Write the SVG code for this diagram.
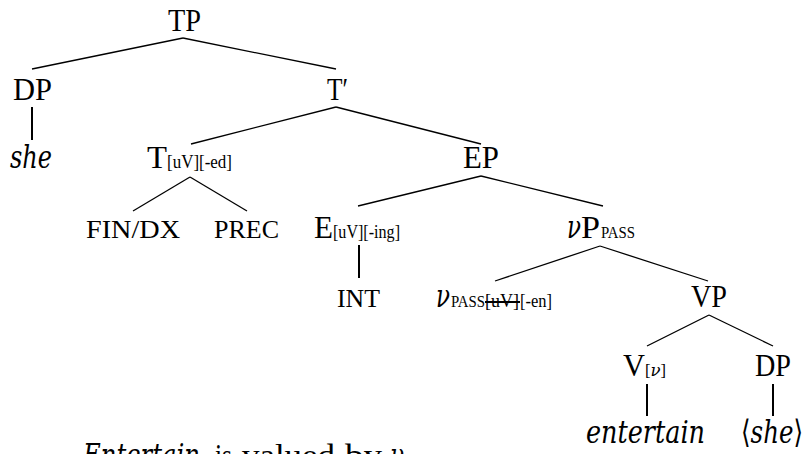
<svg xmlns="http://www.w3.org/2000/svg" width="807" height="454" viewBox="0 0 807 454">
<style>
text{font-family:"Liberation Serif","DejaVu Serif",serif;fill:#000}
.b{font-size:32px}
.m{font-size:26px}
.s{font-size:18px}
.xs{font-size:16px}
.i{font-style:italic;font-family:"DejaVu Serif","Liberation Serif",serif}
.ln{stroke:#000;stroke-width:1.3;fill:none}
.vt{stroke:#000;stroke-width:2;fill:none}
</style>
<rect width="807" height="454" fill="#fff"/>
<g id="connectors">
<line class="ln" x1="183" y1="38" x2="32" y2="69"/>
<line class="ln" x1="183" y1="38" x2="336" y2="69"/>
<line class="vt" x1="32" y1="107" x2="32" y2="140"/>
<line class="ln" x1="336" y1="107" x2="191" y2="144"/>
<line class="ln" x1="336" y1="107" x2="481" y2="144"/>
<line class="ln" x1="190" y1="177" x2="133" y2="211"/>
<line class="ln" x1="190" y1="177" x2="247" y2="211"/>
<line class="ln" x1="481" y1="176" x2="358" y2="206"/>
<line class="ln" x1="481" y1="176" x2="603" y2="206"/>
<line class="vt" x1="359" y1="245" x2="359" y2="278"/>
<line class="ln" x1="600" y1="246" x2="495" y2="281"/>
<line class="ln" x1="600" y1="246" x2="708" y2="281"/>
<line class="ln" x1="709" y1="315" x2="647" y2="346"/>
<line class="ln" x1="709" y1="315" x2="773" y2="346"/>
<line class="vt" x1="647" y1="384" x2="647" y2="416"/>
<line class="vt" x1="773" y1="384" x2="773" y2="416"/>
</g>
<g id="TP"><text class="b" x="168" y="31" textLength="33" lengthAdjust="spacingAndGlyphs">TP</text></g>
<g id="DP1"><text class="b" x="13" y="100" textLength="39" lengthAdjust="spacingAndGlyphs">DP</text></g>
<g id="she1"><text class="b i" x="10" y="168" textLength="42" lengthAdjust="spacingAndGlyphs">she</text></g>
<g id="Tbar"><text class="b" x="327" y="100" textLength="21" lengthAdjust="spacingAndGlyphs">T′</text></g>
<g id="T"><text class="b" x="147" y="168" textLength="20" lengthAdjust="spacingAndGlyphs">T</text><text class="s" x="167" y="168" textLength="65" lengthAdjust="spacingAndGlyphs">[uV][-ed]</text></g>
<g id="FINDX"><text class="m" x="86" y="238" textLength="94" lengthAdjust="spacingAndGlyphs">FIN/DX</text></g>
<g id="PREC"><text class="m" x="214" y="238" textLength="65" lengthAdjust="spacingAndGlyphs">PREC</text></g>
<g id="EP"><text class="b" x="463" y="168" textLength="36" lengthAdjust="spacingAndGlyphs">EP</text></g>
<g id="E"><text class="b" x="314" y="238" textLength="19" lengthAdjust="spacingAndGlyphs">E</text><text class="s" x="333" y="238" textLength="67" lengthAdjust="spacingAndGlyphs">[uV][-ing]</text></g>
<g id="INT"><text class="m" x="337" y="307" textLength="43" lengthAdjust="spacingAndGlyphs">INT</text></g>
<g id="vP"><text class="b i" x="567" y="238" textLength="14" lengthAdjust="spacingAndGlyphs">ν</text><text class="b" x="581" y="238" textLength="19" lengthAdjust="spacingAndGlyphs">P</text><text class="xs" x="601" y="238" textLength="34" lengthAdjust="spacingAndGlyphs">PASS</text></g>
<g id="v"><text class="b i" x="436" y="307" textLength="14" lengthAdjust="spacingAndGlyphs">ν</text><text class="xs" x="451" y="307" textLength="34" lengthAdjust="spacingAndGlyphs">PASS</text><text class="s" x="485" y="307" textLength="34" lengthAdjust="spacingAndGlyphs">[uV]</text><line x1="485" y1="302" x2="520" y2="302" stroke="#000" stroke-width="2"/><text class="s" x="520" y="307" textLength="32" lengthAdjust="spacingAndGlyphs">[-en]</text></g>
<g id="VP"><text class="b" x="691" y="307" textLength="36" lengthAdjust="spacingAndGlyphs">VP</text></g>
<g id="V"><text class="b" x="623" y="376" textLength="22" lengthAdjust="spacingAndGlyphs">V</text><text class="xs" x="645" y="376" textLength="21" lengthAdjust="spacingAndGlyphs">[<tspan class="i">ν</tspan>]</text></g>
<g id="DP2"><text class="b" x="755" y="376" textLength="36" lengthAdjust="spacingAndGlyphs">DP</text></g>
<g id="entertain"><text class="b i" x="586" y="443" textLength="119" lengthAdjust="spacingAndGlyphs">entertain</text></g>
<g id="she2"><text class="b" x="741" y="443" textLength="62" lengthAdjust="spacingAndGlyphs">⟨<tspan class="i">she</tspan>⟩</text></g>
<g id="caption">
<text class="b i" x="83" y="466" textLength="117" lengthAdjust="spacingAndGlyphs">Entertain</text>
<text class="b" x="215" y="466" textLength="17" lengthAdjust="spacingAndGlyphs">is</text>
<text class="b" x="242" y="466" textLength="93" lengthAdjust="spacingAndGlyphs">valued</text>
<text class="b" x="345" y="466" textLength="37" lengthAdjust="spacingAndGlyphs">by</text>
<text class="b i" x="390" y="466" textLength="14" lengthAdjust="spacingAndGlyphs">ν</text>
</g>
</svg>
